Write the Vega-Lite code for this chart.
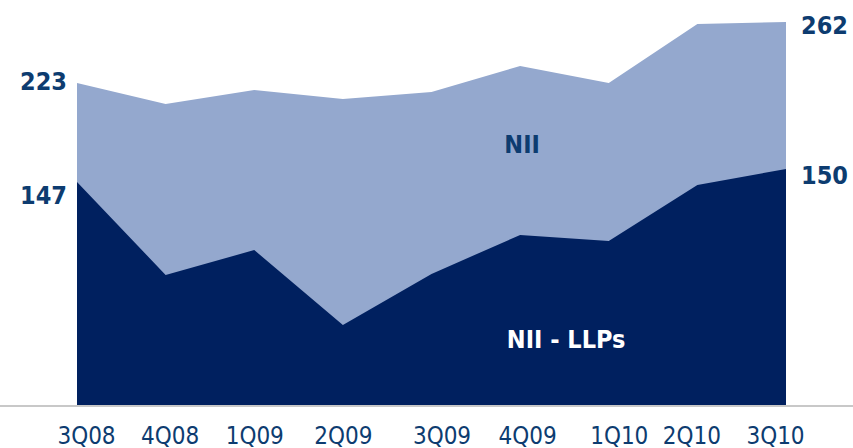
{
  "$schema": "https://vega.github.io/schema/vega-lite/v6.json",
  "width": 853,
  "height": 406,
  "autosize": {"type": "none"},
  "padding": {"left": 0, "top": 0, "right": 0, "bottom": 42},
  "background": "white",
  "config": {"view": {"stroke": null}},
  "data": {
    "values": [
      {"q": "3Q08", "nii": 220.4, "nii_llps": 152.8, "nii_label": "223", "llp_label": "147"},
      {"q": "4Q08", "nii": 206.0, "nii_llps": 89.4},
      {"q": "1Q09", "nii": 215.6, "nii_llps": 106.4},
      {"q": "2Q09", "nii": 209.5, "nii_llps": 55.3},
      {"q": "3Q09", "nii": 214.2, "nii_llps": 90.1},
      {"q": "4Q09", "nii": 232.0, "nii_llps": 116.7},
      {"q": "1Q10", "nii": 220.4, "nii_llps": 112.6},
      {"q": "2Q10", "nii": 260.6, "nii_llps": 150.8},
      {"q": "3Q10", "nii": 262.0, "nii_llps": 161.7, "nii_label": "262", "llp_label": "150"}
    ]
  },
  "encoding": {
    "x": {
      "field": "q",
      "type": "ordinal",
      "sort": null,
      "scale": {"type": "point", "range": [77, 786], "padding": 0},
      "axis": {
        "title": null,
        "domain": false,
        "ticks": false,
        "grid": false,
        "labelAngle": 0,
        "labelFont": "DejaVu Sans Condensed, Open Sans, sans-serif",
        "labelFontSize": 24,
        "labelColor": "#0d3c70",
        "labelPadding": 18,
        "labelBaseline": "top",
        "labelOffset": {
          "condition": [
            {"test": "datum.value === '3Q08'", "value": 9},
            {"test": "datum.value === '4Q08'", "value": 4},
            {"test": "datum.value === '3Q09'", "value": 10},
            {"test": "datum.value === '4Q09'", "value": 7},
            {"test": "datum.value === '1Q10'", "value": 10},
            {"test": "datum.value === '2Q10'", "value": -6},
            {"test": "datum.value === '3Q10'", "value": -11}
          ],
          "value": 0
        }
      }
    }
  },
  "layer": [
    {
      "mark": {"type": "area", "color": "#94a8ce", "opacity": 1},
      "encoding": {
        "y": {"field": "nii", "type": "quantitative", "scale": {"domain": [0, 277], "nice": false, "zero": true}, "axis": null}
      }
    },
    {
      "mark": {"type": "area", "color": "#00205f", "opacity": 1},
      "encoding": {
        "y": {"field": "nii_llps", "type": "quantitative"}
      }
    },
    {
      "mark": {"type": "rule", "color": "#c8c8c8", "strokeWidth": 2},
      "encoding": {"y": {"datum": 0}, "x": null}
    },
    {
      "transform": [{"filter": "datum.q === '3Q08'"}],
      "mark": {"type": "text", "align": "right", "baseline": "middle", "dx": -10, "dy": -1, "font": "DejaVu Sans Condensed, Open Sans, sans-serif", "fontSize": 25, "fontWeight": "bold", "color": "#0d3c70"},
      "encoding": {"y": {"field": "nii", "type": "quantitative"}, "text": {"field": "nii_label"}}
    },
    {
      "transform": [{"filter": "datum.q === '3Q08'"}],
      "mark": {"type": "text", "align": "right", "baseline": "middle", "dx": -10, "dy": 14, "font": "DejaVu Sans Condensed, Open Sans, sans-serif", "fontSize": 25, "fontWeight": "bold", "color": "#0d3c70"},
      "encoding": {"y": {"field": "nii_llps", "type": "quantitative"}, "text": {"field": "llp_label"}}
    },
    {
      "transform": [{"filter": "datum.q === '3Q10'"}],
      "mark": {"type": "text", "align": "left", "baseline": "middle", "dx": 15, "dy": 4, "font": "DejaVu Sans Condensed, Open Sans, sans-serif", "fontSize": 25, "fontWeight": "bold", "color": "#0d3c70"},
      "encoding": {"y": {"field": "nii", "type": "quantitative"}, "text": {"field": "nii_label"}}
    },
    {
      "transform": [{"filter": "datum.q === '3Q10'"}],
      "mark": {"type": "text", "align": "left", "baseline": "middle", "dx": 15, "dy": 7, "font": "DejaVu Sans Condensed, Open Sans, sans-serif", "fontSize": 25, "fontWeight": "bold", "color": "#0d3c70"},
      "encoding": {"y": {"field": "nii_llps", "type": "quantitative"}, "text": {"field": "llp_label"}}
    },
    {
      "transform": [{"filter": "datum.q === '4Q09'"}],
      "mark": {"type": "text", "align": "center", "baseline": "middle", "dx": 2, "font": "DejaVu Sans Condensed, Open Sans, sans-serif", "fontSize": 25, "fontWeight": "bold", "color": "#0d3c70"},
      "encoding": {"y": {"datum": 178}, "text": {"value": "NII"}}
    },
    {
      "transform": [{"filter": "datum.q === '4Q09'"}],
      "mark": {"type": "text", "align": "center", "baseline": "middle", "dx": 46, "font": "DejaVu Sans Condensed, Open Sans, sans-serif", "fontSize": 25, "fontWeight": "bold", "color": "#ffffff"},
      "encoding": {"y": {"datum": 45}, "text": {"value": "NII - LLPs"}}
    }
  ]
}
